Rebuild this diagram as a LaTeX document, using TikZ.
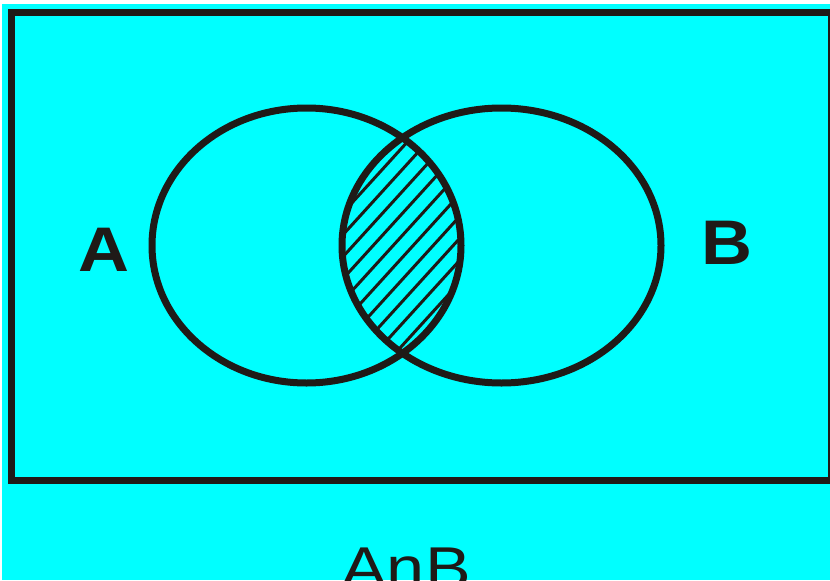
\documentclass[tikz,border=0pt]{standalone}
\usepackage{fontspec}
\setmainfont{Liberation Sans}
\usetikzlibrary{positioning}
\definecolor{ink}{RGB}{31,26,23}
\definecolor{bgcyan}{RGB}{0,255,255}

\begin{document}
\begin{tikzpicture}[x=1pt, y=-1pt,
    frame/.style={draw=ink, line width=7pt},
    circ/.style={draw=ink, line width=7pt},
    hatch/.style={draw=ink, line width=3pt},
    setname/.style={font=\fontsize{63}{63}\selectfont\bfseries, text=ink, xscale=1.12, inner sep=0pt, anchor=base},
    caption/.style={font=\fontsize{59}{59}\selectfont, text=ink, xscale=1.16, inner sep=0pt, anchor=base}
]
\useasboundingbox (0,0) rectangle (830,581);
\fill[white] (0,0) rectangle (830,581);
\fill[bgcyan] (2,4) rectangle (830,580);

% Universe
\draw[frame] (11,12) rectangle (831,480);

% Intersection hatching
\begin{scope}
  \clip (306.5,245.5) ellipse [x radius=154.5, y radius=137.5];
  \clip (501.5,245.5) ellipse [x radius=159.5, y radius=137.5];
  \foreach \k in {0,...,9}
    \draw[hatch] (320,150+22*\k+88) -- (480,150+22*\k-88);
\end{scope}

% Sets
\draw[circ] (306.5,245.5) ellipse [x radius=154.5, y radius=137.5];
\draw[circ] (501.5,245.5) ellipse [x radius=159.5, y radius=137.5];

% Labels
\node[setname] (labelA) at (104,271) {A};
\node[setname] (labelB) at (727,264) {B};
\node[caption] (caption) at (406,588) {AnB};

\end{tikzpicture}
\end{document}
